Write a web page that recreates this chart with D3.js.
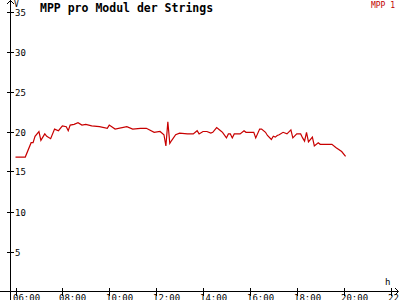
<!DOCTYPE html>
<html>
<head>
<meta charset="utf-8">
<script src="https://cdn.jsdelivr.net/npm/d3@7"></script>
<style>
  body { margin: 0; background: #fff; }
  text { font-family: "DejaVu Sans Mono", "Liberation Mono", monospace; }
</style>
</head>
<body>
<svg width="400" height="300"></svg>
<script>
// MPP per module, one series
var times = ["06:00","06:25","06:40","06:45","06:50","07:00","07:05","07:15","07:20","07:30",
  "07:40","07:50","08:00","08:10","08:15","08:20","08:30","08:40","08:50","09:00",
  "09:15","09:35","09:55","10:00","10:15","10:45","11:00","11:20","11:35","11:55",
  "12:10","12:20","12:25","12:30","12:35","12:40","12:50","13:00","13:20","13:35",
  "13:45","13:50","14:00","14:10","14:20","14:25","14:35","14:45","14:50","15:00",
  "15:05","15:10","15:15","15:20","15:35","15:45","15:50","16:10","16:15","16:25",
  "16:30","16:40","16:45","16:55","17:00","17:05","17:10","17:15","17:25","17:35",
  "17:45","17:50","18:00","18:10","18:15","18:20","18:25","18:30","18:40","18:45",
  "18:55","19:00","19:30","19:40","19:55","20:05"];
var mpp1 = [16.8,16.8,18.6,18.6,19.4,20.0,18.9,19.7,19.4,19.1,
  20.3,20.1,20.7,20.6,20.1,20.8,20.9,21.1,20.8,20.9,
  20.7,20.6,20.4,20.8,20.3,20.6,20.3,20.4,20.4,19.9,
  20.0,19.6,18.2,21.2,18.5,18.9,19.6,19.8,19.7,19.7,
  20.1,19.7,20.0,20.0,19.8,19.9,20.5,20.1,19.9,19.2,
  19.7,19.7,19.2,19.7,19.7,20.1,19.9,19.9,19.2,20.3,
  20.3,19.9,19.5,19.0,19.4,19.3,19.5,19.6,19.9,19.7,
  20.2,19.2,19.7,19.7,19.2,18.8,19.9,18.7,19.3,18.2,
  18.6,18.4,18.4,18.0,17.5,16.9];
var yTicks = [5, 10, 15, 20, 25, 30, 35];
var xTicks = [6, 8, 10, 12, 14, 16, 18, 20, 22];
var title = "MPP pro Modul der Strings";
var seriesName = "MPP 1";

function toHours(t) {
    var p = t.split(":");
    return +p[0] + p[1] / 60;
}
function fmt(h) {
    return (h < 10 ? "0" : "") + h + ":00";
}

var svg = d3.select("svg");

var x = d3.scaleLinear().domain([6, 22]).range([15.5, 390.5]);
var y = d3.scaleLinear().domain([0, 35]).range([291.5, 11.5]);

var x0 = 10.5, y0 = 291.5;

// axes lines
var axes = svg.append("g").attr("stroke", "#000").attr("fill", "none")
    .attr("shape-rendering", "crispEdges");
axes.append("line").attr("x1", x0).attr("x2", x0).attr("y1", 0).attr("y2", 300);
axes.append("line").attr("x1", 0).attr("x2", 398).attr("y1", y0).attr("y2", y0);

// arrows
svg.append("path").attr("d", "M7,4 L10.5,0.5 L14,4").attr("stroke", "#000").attr("fill", "none");
svg.append("path").attr("d", "M395,288 L398.5,291.5 L395,295").attr("stroke", "#000").attr("fill", "none");

// y ticks
var yt = svg.append("g").selectAll("g").data(yTicks).enter().append("g")
    .attr("transform", d => "translate(0," + Math.round(y(d)) + ")");
yt.append("line").attr("x1", 7).attr("x2", 14).attr("y1", 0.5).attr("y2", 0.5)
    .attr("stroke", "#000").attr("shape-rendering", "crispEdges");
yt.append("text").attr("x", 15).attr("y", 4).attr("font-size", 9).text(d => d);

// x ticks
var xt = svg.append("g").selectAll("g").data(xTicks).enter().append("g")
    .attr("transform", d => "translate(" + Math.round(x(d)) + ",0)");
xt.append("line").attr("x1", 0.5).attr("x2", 0.5).attr("y1", 288).attr("y2", 296)
    .attr("stroke", "#000").attr("shape-rendering", "crispEdges");
xt.append("text").attr("x", -3).attr("y", 301).attr("font-size", 9).text(d => fmt(d));

// axis units
svg.append("text").attr("x", 14).attr("y", 7).attr("font-size", 8).text("V");
svg.append("text").attr("x", 385).attr("y", 285).attr("font-size", 9).text("h");

// title and legend
svg.append("text").attr("x", 40).attr("y", 12).attr("font-size", 11.5)
    .attr("font-weight", "bold").text(title);
svg.append("text").attr("x", 395).attr("y", 8).attr("text-anchor", "end")
    .attr("font-size", 8).attr("fill", "#c00000").text(seriesName);

// series
var line = d3.line()
    .x((d, i) => x(toHours(times[i])))
    .y(d => y(d));

svg.append("path").datum(mpp1)
    .attr("d", line)
    .attr("fill", "none")
    .attr("stroke", "#c80000")
    .attr("stroke-width", 1.2);
</script>
</body>
</html>
